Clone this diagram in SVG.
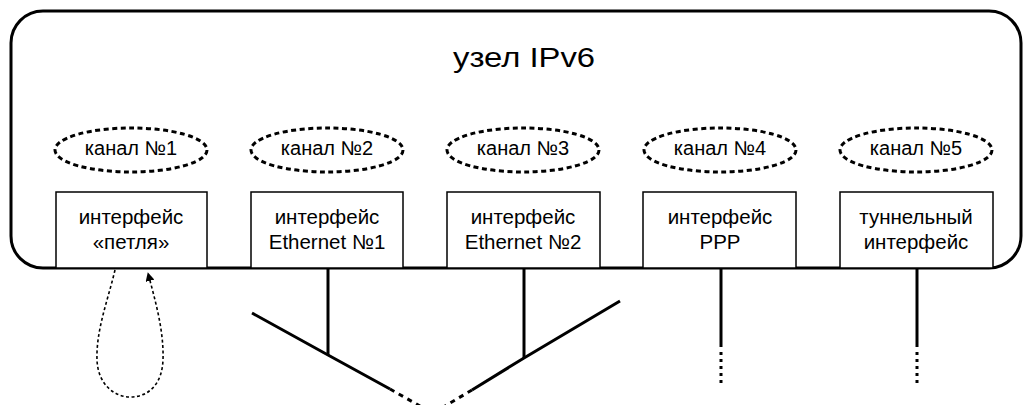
<svg xmlns="http://www.w3.org/2000/svg" width="1028" height="405" viewBox="0 0 1028 405">
<style>
text{font-family:"Liberation Sans",Arial,sans-serif;fill:#000;text-anchor:middle}
.t{font-size:20.5px}
.c{font-size:20px}
.ch{fill:none;stroke:#000;stroke-width:3;stroke-dasharray:5 3.5}
.box{fill:#fff;stroke:#000;stroke-width:1.5}
.net{fill:none;stroke:#000;stroke-width:3}
.dsh{fill:none;stroke:#000;stroke-width:3;stroke-dasharray:5 5}
.dot{fill:none;stroke:#000;stroke-width:3;stroke-dasharray:3 4}
</style>
<defs>
<marker id="ah" viewBox="0 0 10 10" refX="9" refY="5" markerWidth="9" markerHeight="9" markerUnits="userSpaceOnUse" orient="auto">
<path d="M0,0 L10,5 L0,10 Z" fill="#000"/>
</marker>
</defs>
<g id="host">
<rect x="11" y="11" width="1010" height="257" rx="32" ry="32" fill="#fff" stroke="#000" stroke-width="3"/>
<text x="524" y="67" style="font-size:28px" textLength="142" lengthAdjust="spacingAndGlyphs">узел IPv6</text>
</g>
<g id="ch1"><ellipse cx="131" cy="150" rx="76" ry="22" class="ch"/><text x="131" y="155" class="c">канал №1</text></g>
<g id="ch2"><ellipse cx="327" cy="150" rx="76" ry="22" class="ch"/><text x="327" y="155" class="c">канал №2</text></g>
<g id="ch3"><ellipse cx="523" cy="150" rx="76" ry="22" class="ch"/><text x="523" y="155" class="c">канал №3</text></g>
<g id="ch4"><ellipse cx="720" cy="150" rx="76" ry="22" class="ch"/><text x="720" y="155" class="c">канал №4</text></g>
<g id="ch5"><ellipse cx="916" cy="150" rx="76" ry="22" class="ch"/><text x="916" y="155" class="c">канал №5</text></g>
<g id="if1"><rect x="56" y="192" width="151" height="76" class="box"/><text x="131" y="224" class="t">интерфейс</text><text x="131" y="249" class="t">«петля»</text></g>
<g id="if2"><rect x="251" y="192" width="152" height="76" class="box"/><text x="327" y="224" class="t">интерфейс</text><text x="327" y="249" class="t">Ethernet №1</text></g>
<g id="if3"><rect x="447" y="192" width="153" height="76" class="box"/><text x="523" y="224" class="t">интерфейс</text><text x="523" y="249" class="t">Ethernet №2</text></g>
<g id="if4"><rect x="643" y="192" width="153" height="76" class="box"/><text x="720" y="224" class="t">интерфейс</text><text x="720" y="249" class="t">PPP</text></g>
<g id="if5"><rect x="840" y="192" width="153" height="76" class="box"/><text x="916" y="224" class="t">туннельный</text><text x="916" y="249" class="t">интерфейс</text></g>
<g id="connectors">
<path d="M115,270 C108,300 96,330 97,360 C98,385 115,397 130,397 C148,397 162,385 163,360 C164,330 155,300 148,273" fill="none" stroke="#000" stroke-width="1.6" stroke-dasharray="3 2.5" marker-end="url(#ah)"/>
<line x1="328" y1="268" x2="328" y2="355" class="net"/>
<line x1="524" y1="268" x2="524" y2="358" class="net"/>
<polyline points="252,313 328,355 390,389" class="net"/>
<line x1="390" y1="389" x2="420" y2="406" class="dsh"/>
<polyline points="620,301 524,358 472,390" class="net"/>
<line x1="472" y1="390" x2="445" y2="406" class="dsh"/>
<line x1="721" y1="268" x2="721" y2="347" class="net"/>
<line x1="721" y1="352" x2="721" y2="387" class="dot"/>
<line x1="917" y1="268" x2="917" y2="347" class="net"/>
<line x1="917" y1="352" x2="917" y2="387" class="dot"/>
</g>
</svg>
